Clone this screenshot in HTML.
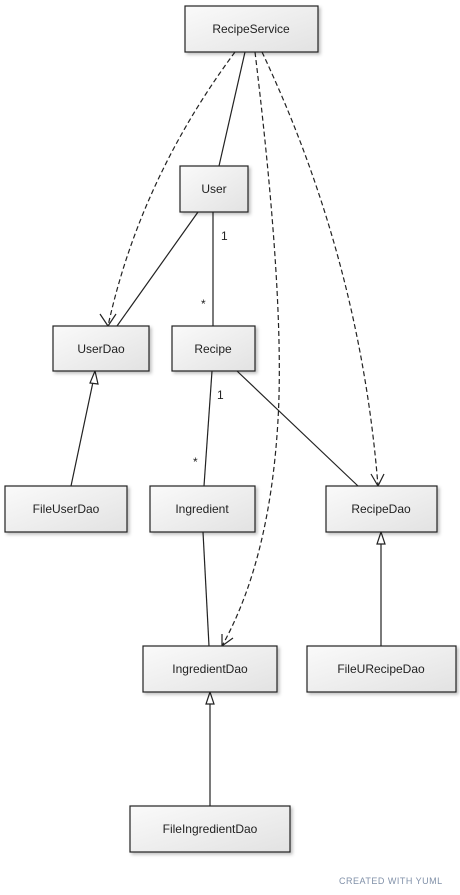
<!DOCTYPE html>
<html><head><style>
body{margin:0;background:#fff;width:460px;height:895px;overflow:hidden}
svg{display:block}
text{font-family:"Liberation Sans",sans-serif;font-size:12px;fill:#222}
</style></head><body>
<svg width="460" height="895" xmlns="http://www.w3.org/2000/svg">
<defs>
<linearGradient id="g" x1="0" y1="0" x2="1" y2="1"><stop offset="0" stop-color="#fafafa"/><stop offset="1" stop-color="#e2e2e2"/></linearGradient>
<filter id="s" x="-10%" y="-10%" width="130%" height="140%"><feDropShadow dx="2" dy="2" stdDeviation="1.5" flood-color="#000" flood-opacity="0.25"/></filter>
</defs>
<g stroke="#222" stroke-width="1.2" fill="none">
<path d="M235,52 Q140,180 108,326" stroke-dasharray="5,3"/>
<path d="M100,314 L108,326 L116,314"/>
<path d="M245,52 L219,166"/>
<path d="M255,52 Q285,300 278,420 Q270,560 222,646" stroke-dasharray="5,3"/>
<path d="M222,634 L222,646 L233,638"/>
<path d="M262,52 Q360,260 378,486" stroke-dasharray="5,3"/>
<path d="M371,474 L378,486 L384,474"/>
<path d="M198,212 L117,326"/>
<path d="M213,212 L213,326"/>
<path d="M71,486 L93,382"/>
<path d="M95,371 L90,383 L98,384 Z" fill="#fff"/>
<path d="M212,371 L204,486"/>
<path d="M237,371 L358,486"/>
<path d="M203,532 L209,646"/>
<path d="M381,646 L381,544"/>
<path d="M381,532 L377,544 L385,544 Z" fill="#fff"/>
<path d="M210,806 L210,704"/>
<path d="M210,692 L206,704 L214,704 Z" fill="#fff"/>
</g>
<g stroke="#222" stroke-width="1.2" fill="url(#g)" filter="url(#s)">
<rect x="185" y="6" width="133" height="46"/>
<rect x="180" y="166" width="68" height="46"/>
<rect x="53" y="326" width="96" height="45"/>
<rect x="172" y="326" width="83" height="45"/>
<rect x="5" y="486" width="122" height="46"/>
<rect x="150" y="486" width="105" height="46"/>
<rect x="326" y="486" width="111" height="46"/>
<rect x="143" y="646" width="134" height="46"/>
<rect x="307" y="646" width="149" height="46"/>
<rect x="130" y="806" width="160" height="46"/>
</g>
<g text-anchor="middle">
<text x="251" y="33">RecipeService</text>
<text x="214" y="193">User</text>
<text x="101" y="353">UserDao</text>
<text x="213" y="353">Recipe</text>
<text x="66" y="513">FileUserDao</text>
<text x="202" y="513">Ingredient</text>
<text x="381" y="513">RecipeDao</text>
<text x="210" y="673">IngredientDao</text>
<text x="381" y="673">FileURecipeDao</text>
<text x="210" y="833">FileIngredientDao</text>
</g>
<text x="221" y="240" font-size="10">1</text>
<text x="201" y="308" font-size="11">*</text>
<text x="217" y="399" font-size="10">1</text>
<text x="193" y="466" font-size="11">*</text>
<text x="339" y="884" style="font-size:9px;fill:#8090a8;letter-spacing:0.5px">CREATED WITH YUML</text>
</svg>
</body></html>
